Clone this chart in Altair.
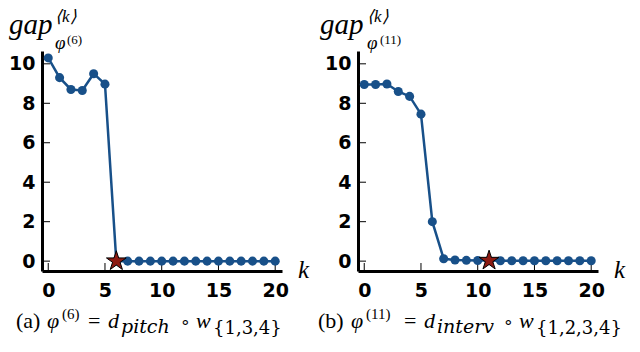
import altair as alt
import pandas as pd

# ---- data ----
k_values = [0, 1, 2, 3, 4, 5, 6, 7, 8, 9, 10, 11, 12, 13, 14, 15, 16, 17, 18, 19, 20]
gap_a = [10.3, 9.3, 8.7, 8.65, 9.5, 8.97, 0.0, 0.0, 0.0, 0.0, 0.0,
         0.0, 0.0, 0.0, 0.0, 0.0, 0.0, 0.0, 0.0, 0.0, 0.0]
gap_b = [8.95, 8.95, 8.98, 8.6, 8.35, 7.45, 2.0, 0.12, 0.06, 0.04, 0.03,
         0.03, 0.02, 0.02, 0.02, 0.02, 0.02, 0.02, 0.02, 0.02, 0.02]
star_a = 6
star_b = 11
x_ticks = [0, 5, 10, 15, 20]
y_ticks = [0, 2, 4, 6, 8, 10]

# ---- style / layout ----
W, H = 240, 220
X_DOMAIN = [-0.55, 20.6]
Y_DOMAIN = [-0.5, 10.65]
BLUE = "#185089"
RED = "#8c1a12"
SERIF = "Liberation Serif, Times New Roman, serif"
WIDE = "DejaVu Serif, serif"
SANS = "DejaVu Sans"
STAR_PATH = ("M0,-1L0.225,-0.309L0.951,-0.309L0.363,0.118L0.588,0.809L0,0.382"
             "L-0.588,0.809L-0.363,0.118L-0.951,-0.309L-0.225,-0.309Z")


def px_to_k(px):
    return X_DOMAIN[0] + px * (X_DOMAIN[1] - X_DOMAIN[0]) / W


def py_to_gap(py):
    return Y_DOMAIN[1] - py * (Y_DOMAIN[1] - Y_DOMAIN[0]) / H


AXIS = dict(title=None, ticks=False, grid=False, domainWidth=3, domainColor="black",
            labelFont=SANS, labelFontWeight="bold", labelFontSize=19, labelColor="black")


def make_x():
    return alt.X("k:Q", scale=alt.Scale(domain=X_DOMAIN, nice=False, zero=False),
                 axis=alt.Axis(values=x_ticks, labelPadding=10, **AXIS))


def make_y():
    return alt.Y("gap:Q", scale=alt.Scale(domain=Y_DOMAIN, nice=False, zero=False),
                 axis=alt.Axis(values=y_ticks, labelPadding=7, **AXIS))


def seg(text, x, y, size, italic=False, font=SERIF):
    d = pd.DataFrame({"k": [px_to_k(x)], "gap": [py_to_gap(y)], "label": [text]})
    return alt.Chart(d).mark_text(
        align="left", baseline="alphabetic", fontSize=size, font=font,
        fontStyle="italic" if italic else "normal", color="black"
    ).encode(x=make_x(), y=make_y(), text="label:N")


def panel(values, star_k, segs):
    df = pd.DataFrame({"k": k_values, "gap": values})
    star_df = pd.DataFrame({"k": [star_k], "gap": [values[star_k]]})
    yt = pd.DataFrame({"gap": y_ticks, "k": [px_to_k(0)] * len(y_ticks),
                       "k2": [px_to_k(8)] * len(y_ticks)})
    xt = pd.DataFrame({"k": x_ticks, "gap": [Y_DOMAIN[0]] * len(x_ticks),
                       "gap2": [py_to_gap(H - 8)] * len(x_ticks)})

    ytick_rules = alt.Chart(yt).mark_rule(color="black", strokeWidth=1).encode(
        y=make_y(), x=make_x(), x2="k2:Q")
    xtick_rules = alt.Chart(xt).mark_rule(color="black", strokeWidth=1).encode(
        x=make_x(), y=make_y(), y2="gap2:Q")
    line = alt.Chart(df).mark_line(color=BLUE, strokeWidth=2.5).encode(x=make_x(), y=make_y())
    pts = alt.Chart(df).mark_circle(color=BLUE, size=82, opacity=1).encode(x=make_x(), y=make_y())
    star = alt.Chart(star_df).mark_point(
        shape=STAR_PATH, filled=True, color=RED, stroke="black", strokeWidth=1,
        size=430, opacity=1).encode(x=make_x(), y=make_y())

    texts = [seg(*s) for s in segs]
    texts.append(seg("k", W + 16, H + 7, 25, True))
    return alt.layer(ytick_rules, xtick_rules, line, pts, star, *texts).properties(
        width=W, height=H)


CB = H + 57  # caption baseline
left = panel(
    gap_a, star_a,
    [
        # y title
        ("gap", -33, -17, 29, True),
        ("⟨k⟩", 13, -29, 17, True),
        ("φ", 13, -2, 19, True),
        ("(6)", 25, -7, 13),
        # caption
        ("(a)", -26, CB, 22),
        ("φ", 5, CB, 22, True),
        ("(6)", 20, CB - 9, 15),
        ("=", 46, CB, 22),
        ("d", 66, CB, 22, True),
        ("pitch", 79, CB + 5, 19, True, WIDE),
        ("∘", 138, CB - 1, 17),
        ("w", 154, CB, 22, True),
        ("{1,3,4}", 171, CB + 6, 18, False, WIDE),
    ],
)
right = panel(
    gap_b, star_b,
    [
        ("gap", -38, -17, 29, True),
        ("⟨k⟩", 9, -29, 17, True),
        ("φ", 9, -2, 19, True),
        ("(11)", 22, -7, 13),
        ("(b)", -40, CB, 22),
        ("φ", -7, CB, 22, True),
        ("(11)", 8, CB - 9, 15),
        ("=", 46, CB, 22),
        ("d", 66, CB, 22, True),
        ("interv", 79, CB + 5, 19, True, WIDE),
        ("∘", 145, CB - 1, 17),
        ("w", 161, CB, 22, True),
        ("{1,2,3,4}", 178, CB + 6, 18, False, WIDE),
    ],
)

chart = alt.hconcat(left, right, spacing=8).properties(padding=0).configure_view(strokeWidth=0)

chart.save("out.html", embed_options={"renderer": "svg", "actions": False})
